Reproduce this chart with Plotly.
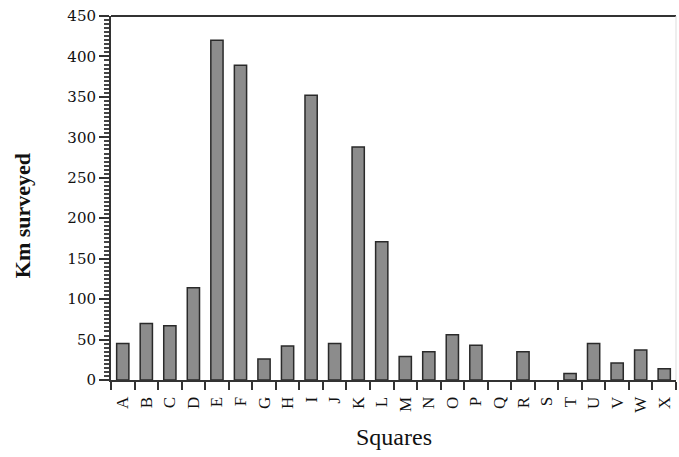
import plotly.graph_objects as go

squares = list("ABCDEFGHIJKLMNOPQRSTUVWX")
km_surveyed = [45, 70, 67, 114, 420, 389, 26, 42, 352, 45, 288, 171, 29, 35, 56, 43, 0, 35, 0, 8, 45, 21, 37, 14]
y_ticks = [0, 50, 100, 150, 200, 250, 300, 350, 400, 450]

serif = "Liberation Serif, Times New Roman, serif"
num_font = "DejaVu Serif, serif"

fig = go.Figure(go.Bar(
    x=squares, y=km_surveyed,
    marker=dict(color="#8c8c8c",
                line=dict(color="#2a2a2a", width=[0 if v == 0 else 1.5 for v in km_surveyed])),
))

fig.update_layout(
    width=679, height=457,
    margin=dict(l=111, r=3, t=16, b=77, autoexpand=False),
    plot_bgcolor="white", paper_bgcolor="white",
    bargap=0.48,
    showlegend=False,
    font=dict(family=serif, color="#111"),
    xaxis=dict(
        type="category", range=[-0.5, 23.5], automargin=False,
        showline=True, linecolor="#333", linewidth=2,
        ticks="outside", tickson="boundaries", ticklen=8, tickwidth=2, tickcolor="#333",
        tickangle=-90, tickfont=dict(size=17, family=serif, color="#111"),
        ticklabelstandoff=8,
        showgrid=False,
    ),
    yaxis=dict(
        range=[0, 450], automargin=False,
        tickvals=y_ticks, ticktext=[str(v) for v in y_ticks],
        showline=True, linecolor="#333", linewidth=2,
        ticks="outside", ticklen=10, tickwidth=2, tickcolor="#333",
        minor=dict(dtick=5, ticks="outside", ticklen=5, tickwidth=1.5, tickcolor="#444"),
        tickfont=dict(size=15, family=num_font, color="#111"),
        showgrid=False, zeroline=False,
    ),
    shapes=[
        dict(type="line", xref="paper", yref="paper", x0=0, x1=1, y0=1, y1=1,
             line=dict(color="#333", width=2)),
        dict(type="line", xref="paper", yref="paper", x0=1, x1=1, y0=0, y1=1,
             line=dict(color="#ddd", width=1)),
    ],
    annotations=[
        dict(text="<b>Km surveyed</b>", xref="paper", yref="paper", x=0, y=0.45,
             xanchor="center", yanchor="middle",
             xshift=-89, textangle=-90, showarrow=False,
             font=dict(size=22, family=serif, color="#111")),
        dict(text="Squares", xref="paper", yref="paper", x=0.5, y=0,
             xanchor="center", yanchor="middle",
             yshift=-57, showarrow=False,
             font=dict(size=24, family=serif, color="#111")),
    ],
)

fig.write_html("out.html", config={"displayModeBar": False},
               post_script="document.body.style.margin='0';")
